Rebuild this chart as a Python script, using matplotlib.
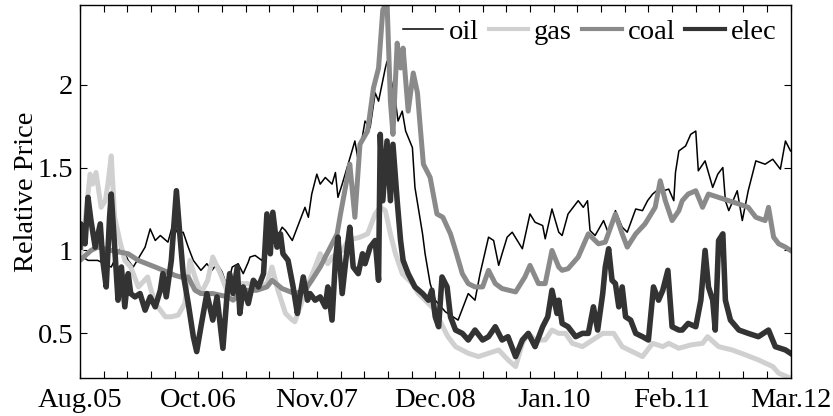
import numpy as np
import matplotlib
matplotlib.use("Agg")
import matplotlib.pyplot as plt

plt.rcParams['font.family'] = ['Liberation Serif', 'DejaVu Serif']

# months since Aug 2005, relative price
oil_t = [0, 0.95, 2.1, 3.7, 4.9, 5.7, 6.3, 7.7, 8.3, 8.9, 9.5, 10.4, 11.0, 11.6,
         12.2, 12.8, 13.4, 14.3, 15.0, 15.6, 16.2, 16.8, 17.4, 18.0, 18.7, 19.3,
         19.9, 20.1, 20.7, 21.5, 21.9, 23.1, 23.9, 24.3, 25.1, 25.4, 26.6, 27.0,
         27.4, 28.0, 28.4, 29.0, 29.8, 30.2, 30.5, 31.0, 31.7, 32.5, 32.9, 33.7,
         34.3, 34.9, 35.3, 36.1, 36.3, 36.7, 37.3, 37.6, 38.1, 38.5, 39.3, 39.6,
         40.5, 40.8, 41.4, 42.0, 43.2, 44.7, 45.0, 45.9, 46.7, 47.3, 48.3, 48.9,
         49.5, 49.9, 50.5, 51.1, 52.3, 53.2, 53.8, 54.7, 55.0, 55.8, 56.6, 57.0,
         57.7, 58.9, 59.5, 60.0, 60.3, 60.9, 61.9, 62.5, 63.3, 64.1, 64.7, 65.7,
         66.5, 67.1, 67.7, 68.4, 69.0, 69.6, 70.2, 70.4, 70.8, 71.6, 72.2, 72.8,
         73.1, 73.9, 74.8, 75.4, 76.0, 76.3, 76.7, 77.7, 78.3, 79.0, 79.9, 81.0,
         81.9, 82.8, 83.4, 84.0]
oil = [0.97, 0.94, 0.94, 0.90, 1.03, 0.94, 0.90, 1.02, 1.13, 1.06, 1.09, 1.05, 1.16, 1.10,
       1.11, 1.02, 0.94, 0.88, 0.92, 0.88, 0.92, 0.87, 0.78, 0.90, 0.92, 0.86,
       0.93, 0.96, 0.97, 0.94, 0.99, 1.06, 1.14, 1.12, 1.06, 1.10, 1.26, 1.20,
       1.34, 1.46, 1.40, 1.44, 1.40, 1.47, 1.32, 1.40, 1.52, 1.66, 1.54, 1.78,
       1.74, 1.95, 1.90, 2.10, 2.14, 2.05, 1.90, 1.78, 1.84, 1.72, 1.62, 1.38,
       1.10, 0.98, 0.80, 0.70, 0.63, 0.58, 0.62, 0.74, 0.70, 0.86, 1.08, 1.06,
       0.91, 0.98, 1.08, 1.11, 1.01, 1.22, 1.17, 1.15, 1.07, 1.25, 1.11, 1.09,
       1.22, 1.30, 1.26, 1.30, 1.12, 1.09, 1.18, 1.10, 1.24, 1.14, 1.11, 1.25,
       1.24, 1.30, 1.34, 1.37, 1.36, 1.37, 1.30, 1.47, 1.60, 1.63, 1.70, 1.72,
       1.48, 1.54, 1.38, 1.46, 1.50, 1.30, 1.24, 1.36, 1.18, 1.36, 1.54, 1.52,
       1.55, 1.49, 1.66, 1.60]

gas_t = [0, 0.6, 1.2, 1.5, 1.9, 2.5, 3.0, 3.3, 3.7, 4.1, 4.7, 5.3, 6.0, 6.9, 8.0,
         8.3, 8.9, 10.1, 10.8, 11.6, 12.4, 13.0, 13.6, 14.3, 15.1, 15.7, 16.6,
         17.5, 18.1, 18.7, 19.8, 21.1, 22.1, 22.7, 23.4, 24.3, 25.1, 25.4, 26.3,
         27.0, 27.8, 28.4, 29.3, 29.8, 31.0, 31.7, 33.1, 34.0, 34.9, 35.5, 36.1,
         36.7, 37.3, 38.1, 39.3, 40.0, 40.8, 42.0, 42.8, 43.5, 44.4, 45.9, 47.1,
         48.3, 49.5, 50.6, 51.5, 52.3, 53.0, 53.8, 55.0, 55.8, 56.6, 57.4, 58.2,
         59.4, 60.6, 61.8, 63.1, 64.1, 65.3, 66.5, 67.7, 68.9, 69.6, 70.8, 72.2,
         73.6, 74.2, 75.5, 77.1, 78.7, 80.2, 81.9, 82.6, 84.0]
gas = [0.95, 1.18, 1.46, 1.40, 1.47, 1.26, 1.30, 1.40, 1.57, 1.20, 1.06, 0.94, 0.90, 0.78, 0.84,
       0.78, 0.68, 0.60, 0.60, 0.61, 0.68, 0.94, 0.84, 0.74, 0.82, 0.96, 0.86,
       0.74, 0.76, 0.80, 0.80, 0.78, 0.80, 0.90, 0.76, 0.62, 0.58, 0.57, 0.70,
       0.80, 0.90, 0.98, 0.92, 0.96, 1.00, 1.06, 1.08, 1.10, 1.22, 1.26, 1.24,
       1.10, 0.98, 0.86, 0.80, 0.74, 0.70, 0.64, 0.55, 0.48, 0.42, 0.38, 0.36,
       0.38, 0.40, 0.34, 0.30, 0.44, 0.50, 0.46, 0.46, 0.52, 0.50, 0.50, 0.44,
       0.42, 0.46, 0.50, 0.50, 0.42, 0.39, 0.36, 0.44, 0.42, 0.44, 0.41, 0.43,
       0.44, 0.48, 0.42, 0.40, 0.37, 0.34, 0.30, 0.26, 0.23]

coal_t = [0, 1.3, 2.1, 3.7, 5.7, 6.9, 8.9, 10.8, 11.2, 11.9, 12.8, 13.6, 14.3, 15.7,
          17.5, 18.1, 19.5, 20.9, 21.5, 22.1, 22.7, 23.9, 25.4, 26.6, 27.4, 28.4,
          29.2, 30.4, 30.8, 31.6, 31.9, 32.5, 33.1, 34.0, 34.7, 35.3, 35.8, 36.3,
          36.7, 37.0, 37.5, 37.9, 38.2, 38.8, 39.4, 39.9, 40.2, 40.6, 41.4, 42.2,
          42.9, 43.8, 44.4, 45.2, 45.9, 46.7, 47.6, 48.3, 49.1, 49.9, 51.5, 52.6,
          53.2, 54.2, 55.0, 55.8, 56.6, 57.0, 57.7, 58.9, 60.1, 61.3, 62.1, 63.3,
          64.1, 64.7, 65.7, 66.8, 68.0, 68.6, 69.2, 70.0, 70.8, 71.2, 71.9, 72.8,
          73.6, 74.3, 75.5, 76.7, 77.9, 79.0, 79.9, 81.0, 81.4, 82.0, 82.6, 83.4,
          84.0]
coal = [0.94, 1.00, 1.02, 1.00, 0.98, 0.94, 0.90, 0.86, 0.85, 0.84, 0.84, 0.76, 0.74, 0.74,
        0.72, 0.70, 0.76, 0.76, 0.77, 0.78, 0.82, 0.77, 0.74, 0.76, 0.82, 0.90,
        0.98, 1.10, 1.22, 1.44, 1.52, 1.20, 1.64, 1.72, 1.98, 2.10, 2.45, 2.50,
        1.90, 1.70, 2.25, 2.10, 2.22, 1.84, 2.07, 1.95, 1.76, 1.52, 1.44, 1.22,
        1.20, 1.10, 1.00, 0.86, 0.80, 0.78, 0.78, 0.88, 0.80, 0.77, 0.75, 0.84,
        0.91, 0.80, 0.80, 1.00, 0.90, 0.88, 0.89, 0.96, 1.10, 1.04, 1.05, 1.22,
        1.10, 1.02, 1.10, 1.16, 1.26, 1.42, 1.30, 1.18, 1.24, 1.30, 1.34, 1.36,
        1.26, 1.34, 1.32, 1.30, 1.28, 1.26, 1.20, 1.18, 1.26, 1.08, 1.04, 1.02,
        1.00]

elec_t = [0, 0.1, 0.6, 0.95, 1.3, 1.8, 2.4, 2.7, 3.1, 3.5, 3.7, 4.1, 4.5, 4.9, 5.3,
          5.7, 6.0, 6.5, 7.1, 7.7, 8.3, 8.9, 9.5, 9.8, 10.2, 10.8, 11.4, 11.8, 12.2,
          12.8, 13.4, 13.8, 14.3, 15.0, 15.7, 16.2, 16.9, 17.4, 17.7, 18.1, 18.6,
          18.9, 19.3, 19.9, 20.5, 21.1, 21.7, 22.1, 22.5, 22.8, 23.3, 23.7, 24.0,
          24.6, 25.2, 25.7, 26.0, 26.4, 26.9, 27.2, 27.8, 28.4, 29.0, 29.3, 29.8,
          30.2, 30.5, 31.0, 31.6, 31.9, 32.3, 32.9, 33.4, 33.7, 34.3, 34.9, 35.3,
          35.5, 35.8, 36.3, 36.7, 37.0, 37.5, 37.9, 38.2, 38.8, 39.6, 40.5, 41.2,
          41.6, 42.0, 42.4, 42.8, 43.4, 43.8, 44.4, 45.2, 45.9, 46.7, 47.6, 48.3,
          49.1, 49.9, 50.6, 51.5, 52.3, 53.0, 53.8, 54.7, 55.3, 55.8, 56.4, 56.6,
          57.0, 57.7, 58.6, 59.4, 60.1, 60.7, 61.2, 61.8, 62.1, 62.5, 62.9, 63.3,
          63.7, 64.1, 64.5, 65.1, 65.7, 66.5, 67.2, 67.8, 68.4, 68.9, 69.5, 70.0,
          70.8, 71.2, 71.9, 72.8, 73.4, 73.9, 74.3, 74.8, 75.1, 75.5, 76.0, 76.3,
          76.9, 77.9, 79.0, 80.2, 81.4, 82.2, 83.4, 84.0]
elec = [1.02, 1.16, 1.04, 1.32, 1.18, 1.02, 1.16, 0.94, 0.78, 1.20, 1.34, 1.02, 0.70, 0.90, 0.66,
        0.86, 0.74, 0.72, 0.74, 0.64, 0.72, 0.66, 0.76, 0.86, 0.72, 0.94, 1.36, 1.10, 0.86,
        0.68, 0.48, 0.39, 0.54, 0.74, 0.58, 0.72, 0.41, 0.74, 0.86, 0.74, 0.90,
        0.62, 0.78, 0.68, 0.82, 0.78, 0.86, 1.22, 0.98, 1.23, 1.02, 1.10, 0.98,
        0.94, 0.78, 0.62, 0.72, 0.84, 0.70, 0.74, 0.70, 0.72, 0.66, 0.78, 0.58,
        0.94, 1.08, 0.74, 1.02, 1.14, 0.90, 0.86, 0.98, 0.92, 1.02, 1.06, 0.82,
        1.70, 1.30, 1.66, 1.30, 1.64, 1.30, 1.06, 0.94, 0.86, 0.78, 0.74, 0.70,
        0.76, 0.60, 0.54, 0.84, 0.78, 0.60, 0.52, 0.50, 0.46, 0.52, 0.46, 0.48,
        0.54, 0.46, 0.48, 0.36, 0.46, 0.50, 0.42, 0.54, 0.60, 0.76, 0.62, 0.70,
        0.56, 0.54, 0.48, 0.50, 0.50, 0.66, 0.52, 0.74, 0.90, 1.01, 0.82, 0.80,
        0.66, 0.78, 0.60, 0.58, 0.50, 0.48, 0.46, 0.78, 0.70, 0.76, 0.88, 0.54,
        0.52, 0.52, 0.56, 0.54, 0.70, 1.00, 0.78, 0.70, 0.52, 1.06, 1.10, 0.70,
        0.58, 0.52, 0.50, 0.48, 0.52, 0.42, 0.40, 0.38]

tick_labels = ['Aug.05', 'Oct.06', 'Nov.07', 'Dec.08', 'Jan.10', 'Feb.11', 'Mar.12']

fig = plt.figure(figsize=(8.33, 4.16), dpi=100)
ax = fig.add_axes([0.096, 0.091, 0.853, 0.897])

ax.plot(oil_t, oil, color='black', lw=1.1, label='oil')
ax.plot(gas_t, gas, color='#d0d0d0', lw=3.6, label='gas')
ax.plot(coal_t, coal, color='#8a8a8a', lw=3.6, label='coal')
ax.plot(elec_t, elec, color='#333333', lw=4.0, label='elec')

ax.set_xlim(0, 84)
ax.set_ylim(0.23, 2.48)
ax.set_xticks(np.arange(0, 85, 14))
ax.set_xticklabels(tick_labels)
ax.set_xticks(np.arange(0, 84.1, 2.8), minor=True)
ax.set_yticks([0.5, 1, 1.5, 2])
ax.set_yticklabels(['0.5', '1', '1.5', '2'])
ax.tick_params(which='both', direction='in', top=True, right=True,
               labelsize=20.5, width=0.8)
ax.tick_params(which='major', length=5)
ax.tick_params(axis='x', which='major', pad=7)
ax.tick_params(axis='y', which='major', pad=5)
ax.tick_params(which='minor', length=5)
for s in ax.spines.values():
    s.set_linewidth(1.0)
ax.set_ylabel('Relative Price', fontsize=20.5, labelpad=-1)

leg = ax.legend(loc='upper right', ncol=4, frameon=False, fontsize=20.5,
                handlelength=1.4, handletextpad=0.2, columnspacing=0.35,
                borderaxespad=0.5, borderpad=0.0)
for h in leg.get_lines():
    h.set_linewidth(min(h.get_linewidth(), 3.0))

fig.savefig('out.png', dpi=100)
